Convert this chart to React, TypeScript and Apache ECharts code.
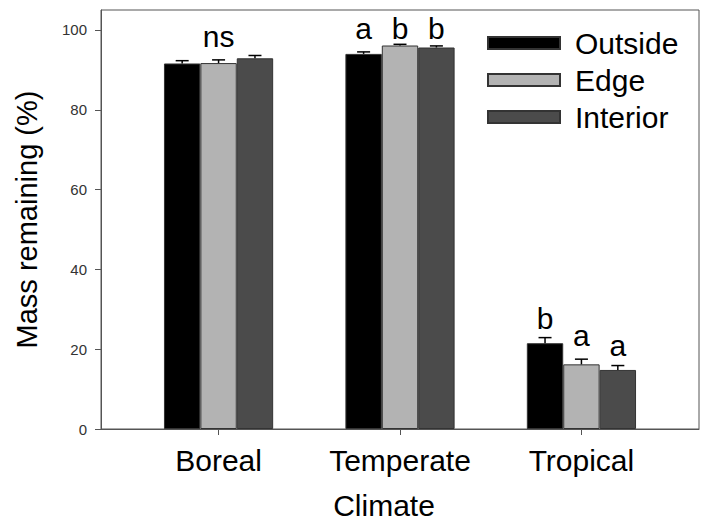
import React, { useEffect, useRef } from "react";
import * as echarts from "echarts";

const categories = ["Boreal", "Temperate", "Tropical"];
const categoryX = [1, 2, 3];
const seriesNames = ["Outside", "Edge", "Interior"];
const outside = [91.6, 94.0, 21.5];
const edge = [91.7, 96.1, 16.2];
const interior = [92.9, 95.6, 14.8];
const outsideErr = [0.7, 0.5, 1.4];
const edgeErr = [0.8, 0.3, 1.3];
const interiorErr = [0.7, 0.4, 1.1];
const outsideLetters = ["", "a", "b"];
const edgeLetters = ["ns", "b", "a"];
const interiorLetters = ["", "b", "a"];
const outsideLetterY = [0, 97.7, 25.2];
const edgeLetterY = [95.8, 97.7, 20.8];
const interiorLetterY = [0, 97.7, 18.3];
const yTicks = [0, 20, 40, 60, 80, 100];

const FONT = "'Liberation Sans', Arial, Helvetica, sans-serif";
const BAR_W = 36.4;
const colors = ["#000000", "#b3b3b3", "#4b4b4b"];

export default function App() {
  const ref = useRef<HTMLDivElement>(null);
  useEffect(() => {
    document.body.style.margin = "0";
    if (!ref.current) return;
    const chart = echarts.init(ref.current, null, { renderer: "svg" });
    const values = [outside, edge, interior];
    const errs = [outsideErr, edgeErr, interiorErr];
    const letters = [outsideLetters, edgeLetters, interiorLetters];
    const letterYs = [outsideLetterY, edgeLetterY, interiorLetterY];

    const bars = values.map((vals, s) => ({
      type: "bar",
      name: seriesNames[s],
      barWidth: BAR_W,
      barGap: "0%",
      data: categoryX.map((x, i) => [x, vals[i]]),
      itemStyle: { color: colors[s], borderColor: "#333", borderWidth: 1 },
      z: 2,
    }));

    const errSeries = values.map((vals, s) => ({
      type: "custom",
      name: "err" + s,
      z: 5,
      encode: { x: 0, y: 1 },
      data: categoryX.map((x, i) => [x, vals[i] + errs[s][i], vals[i]]),
      renderItem: (params: any, api: any) => {
        const x = api.value(0);
        const p1 = api.coord([x, api.value(1)]);
        const p0 = api.coord([x, api.value(2)]);
        const cx = p1[0] + (s - 1) * BAR_W;
        return {
          type: "group",
          children: [
            { type: "line", shape: { x1: cx, y1: p0[1], x2: cx, y2: p1[1] }, style: { stroke: "#000", lineWidth: 1.5 } },
            { type: "line", shape: { x1: cx - 6.5, y1: p1[1], x2: cx + 6.5, y2: p1[1] }, style: { stroke: "#000", lineWidth: 1.5 } },
          ],
        };
      },
    }));

    const letterSeries = letters.map((ls, s) => ({
      type: "custom",
      name: "letters" + s,
      z: 6,
      encode: { x: 0, y: 1 },
      data: categoryX.map((x, i) => [x, letterYs[s][i]]),
      renderItem: (params: any, api: any) => {
        const t = ls[params.dataIndex];
        if (!t) return null;
        const p = api.coord([api.value(0), api.value(1)]);
        return {
          type: "text",
          style: {
            text: t,
            x: p[0] + (s - 1) * BAR_W,
            y: p[1] - 10.4,
            fill: "#000",
            font: `30px ${FONT}`,
            align: "center",
            verticalAlign: "middle",
          },
        };
      },
    }));

    chart.setOption({
      animation: false,
      textStyle: { fontFamily: FONT },
      grid: {
        left: 101, right: 8, top: 10, bottom: 92,
        show: true, borderColor: "#555", borderWidth: 1,
        outerBoundsMode: "none", containLabel: false,
      },
      legend: {
        data: seriesNames,
        orient: "vertical",
        left: 487,
        top: 28,
        padding: 0,
        itemWidth: 72,
        itemHeight: 12,
        itemGap: 7,
        icon: "rect",
        textStyle: { fontSize: 30, color: "#000", fontFamily: FONT, padding: [0, 0, 0, 10] },
      },
      xAxis: {
        type: "value",
        min: 0.352,
        max: 3.648,
        axisLine: { show: true, onZero: false, lineStyle: { color: "#555" } },
        axisTick: { show: true, customValues: categoryX, length: 6, lineStyle: { color: "#555" } },
        axisLabel: {
          customValues: categoryX,
          formatter: (v: number) => categories[Math.round(v) - 1] ?? "",
          fontSize: 30,
          color: "#000",
          margin: 16,
          fontFamily: FONT,
        },
        splitLine: { show: false },
        name: "Climate",
        nameLocation: "middle",
        nameGap: 64,
        nameTextStyle: { fontSize: 30, lineHeight: 24, color: "#000", fontFamily: FONT, padding: [0, 32, 0, 0] },
      },
      yAxis: {
        type: "value",
        min: 0,
        max: 105,
        axisLine: { show: true, lineStyle: { color: "#555" } },
        axisTick: { show: true, customValues: yTicks, length: 6, lineStyle: { color: "#555" } },
        axisLabel: { customValues: yTicks, fontSize: 15, color: "#333", margin: 14, fontFamily: FONT },
        splitLine: { show: false },
        name: "Mass remaining (%)",
        nameLocation: "middle",
        nameGap: 60,
        nameRotate: 90,
        nameTextStyle: { fontSize: 29, color: "#000", fontFamily: FONT },
      },
      series: [...bars, ...errSeries, ...letterSeries],
    });
    return () => chart.dispose();
  }, []);
  return <div ref={ref} style={{ width: 707, height: 521 }} />;
}
